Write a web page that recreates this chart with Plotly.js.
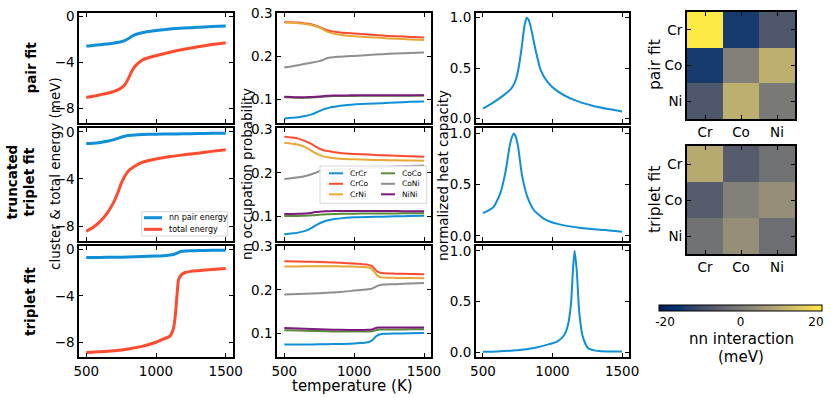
<!DOCTYPE html>
<html>
<head>
<meta charset="utf-8">
<script src="https://cdn.plot.ly/plotly-3.0.1.min.js"></script>
<style>body{margin:0;background:#fff}#plot{width:831px;height:398px}</style>
</head>
<body>
<div id="plot"></div>
<script>
// temperature grids (K) for the three fits
var tPair = [500,550,600,650,700,750,775,800,825,850,900,950,1000,1100,1200,1300,1400,1500]
var tTrunc = [500,550,600,650,700,725,750,775,800,850,900,1000,1100,1200,1300,1400,1500]
var tTrip = [500,600,700,800,900,1000,1050,1100,1125,1138,1150,1162,1175,1187,1210,1250,1300,1400,1500]

// energies (meV)
var pairNN = [-2.58,-2.53,-2.47,-2.4,-2.32,-2.21,-2.11,-1.96,-1.76,-1.6,-1.43,-1.33,-1.25,-1.12,-1.03,-0.96,-0.9,-0.85]
var pairTot = [-7.04,-6.93,-6.8,-6.67,-6.5,-6.22,-5.95,-5.45,-4.8,-4.33,-3.82,-3.58,-3.42,-3.12,-2.87,-2.65,-2.46,-2.3]
var truncNN = [-1.0,-0.97,-0.9,-0.8,-0.66,-0.56,-0.46,-0.38,-0.32,-0.26,-0.23,-0.2,-0.18,-0.17,-0.15,-0.13,-0.12]
var truncTot = [-8.44,-8.1,-7.6,-6.9,-5.9,-5.2,-4.4,-3.8,-3.35,-2.9,-2.6,-2.31,-2.1,-1.95,-1.81,-1.66,-1.52]
var tripNN = [-0.72,-0.71,-0.69,-0.67,-0.63,-0.59,-0.56,-0.5,-0.45,-0.4,-0.34,-0.27,-0.21,-0.18,-0.15,-0.13,-0.12,-0.1,-0.09]
var tripTot = [-8.85,-8.8,-8.71,-8.56,-8.33,-7.98,-7.72,-7.45,-6.8,-5.75,-4.05,-2.6,-2.3,-2.15,-2.0,-1.9,-1.84,-1.75,-1.66]

// nn occupation probabilities: CrCr, CrCo, CrNi, CoCo, CoNi, NiNi
var pairOcc = [
  [.0558,.0572,.0588,.0615,.0658,.0728,.0762,.079,.081,.0825,.0852,.087,.0884,.09,.0914,.093,.0944,.0951],
  [.2805,.28,.279,.277,.2744,.269,.2655,.262,.2595,.258,.2558,.2545,.2535,.2512,.2488,.2472,.2457,.2442],
  [.279,.2785,.2775,.2755,.273,.2675,.2635,.259,.2555,.2535,.2505,.2485,.247,.245,.243,.2413,.2397,.2382],
  [.105,.1043,.1037,.1037,.1043,.1055,.1063,.107,.1075,.1078,.108,.1082,.1083,.1085,.1087,.1088,.1089,.109],
  [.1744,.177,.1798,.183,.186,.1893,.192,.1953,.1975,.1985,.1995,.2005,.2014,.2035,.2053,.207,.2082,.2093],
  [.1061,.1056,.1053,.1054,.106,.107,.1077,.1084,.1089,.1092,.1094,.1095,.1096,.1097,.1098,.1099,.11,.11]
]
var truncOcc = [
  [.0598,.0615,.0636,.0675,.0752,.08,.0845,.088,.0907,.094,.0962,.0985,.0995,.1,.1008,.1016,.1023],
  [.283,.281,.2784,.2728,.265,.26,.2558,.2525,.2505,.2478,.2458,.2435,.242,.2405,.2393,.2382,.2372],
  [.269,.267,.2644,.259,.2496,.245,.2412,.2385,.2365,.2342,.2326,.231,.2302,.2295,.229,.2284,.2279],
  [.1016,.1016,.1018,.1023,.1031,.1038,.1045,.105,.1054,.106,.1065,.107,.1073,.1075,.1076,.1077,.1078],
  [.186,.1878,.1899,.193,.1977,.2005,.204,.2055,.2065,.2075,.2082,.2095,.2112,.2128,.2145,.216,.2172],
  [.1063,.1063,.1065,.1075,.1093,.1105,.1115,.112,.1124,.1128,.113,.1131,.1131,.113,.1128,.1126,.1124]
]
var tripOcc = [
  [.0738,.0741,.0743,.0746,.0753,.0762,.0775,.0792,.083,.0865,.0908,.094,.0965,.0978,.0987,.099,.0993,.1,.1008],
  [.2663,.2656,.2648,.264,.2625,.2609,.2595,.2578,.2555,.252,.2475,.2435,.2408,.2395,.2383,.2378,.2375,.2368,.2362],
  [.2538,.2542,.2545,.2546,.2543,.2538,.2528,.2515,.249,.2445,.2395,.2345,.231,.2295,.2285,.228,.2277,.2273,.227],
  [.107,.1062,.1054,.1046,.104,.1039,.1039,.104,.1045,.1053,.1063,.1073,.108,.1084,.1086,.1087,.1088,.109,.1092],
  [.1892,.1903,.1915,.1935,.1954,.1985,.2,.2015,.2028,.2045,.2065,.2085,.2102,.2115,.2125,.2128,.2132,.2148,.2162],
  [.1123,.1112,.11,.1088,.1078,.1077,.1077,.1078,.1085,.11,.1115,.1125,.113,.1131,.1131,.1131,.1131,.1131,.1131]
]

// normalized heat capacity
var cvPairT = [500,550,600,650,700,720,740,760,780,800,815,830,845,860,880,915,965,1035,1150,1300,1400,1500]
var cvPair = [0.095,0.135,0.18,0.23,0.29,0.33,0.4,0.53,0.72,0.93,1.0,0.975,0.9,0.8,0.67,0.48,0.36,0.27,0.185,0.12,0.092,0.068]
var cvTruncT = [500,540,577,625,661,693,710,722,735,751,782,819,867,939,1036,1205,1374,1500]
var cvTrunc = [0.223,0.25,0.283,0.417,0.617,0.883,0.97,1.0,0.97,0.883,0.583,0.383,0.25,0.167,0.117,0.077,0.057,0.04]
var cvTripT = [500,600,746,867,964,1036,1085,1109,1133,1147,1159,1174,1193,1217,1254,1300,1350,1500]
var cvTrip = [0.005,0.008,0.02,0.042,0.075,0.108,0.17,0.255,0.48,0.81,1.0,0.81,0.386,0.157,0.042,0.018,0.01,0.007]

// nn interaction matrices (meV)
var elements = ['Cr','Co','Ni']
var pairJ = [[21.6,-15,-8.5],[-15,1,11],[-8.5,11,-0.5]]
var tripJ = [[10,-7,-2],[-7,1,4.5],[-2,4.5,-3]]

var energyNames = ['nn pair energy','total energy']
var occNames = ['CrCr','CrCo','CrNi','CoCo','CoNi','NiNi']
var rowNames = ['<b>pair fit</b>','<b>truncated<br>triplet fit</b>','<b>triplet fit</b>']

var blue = '#0f8fd8', red = '#ff4b2f'
var energyColors = [blue, red]
var occColors = [blue, red, '#e8a838', '#5c8a3a', '#8f8f8f', '#7c1a80']

var W = 831, H = 398
function px(x){ return x / W }
function py(y){ return 1 - y / H }
function ax(n){ return n === 1 ? '' : String(n) }

var colPx = [[79.3,232.7],[277.3,431],[476,629]]
var rowPx = [[12.7,123.3],[128.3,241],[245.7,357.3]]

var temps = [tPair, tTrunc, tTrip]
var energies = [[pairNN, pairTot], [truncNN, truncTot], [tripNN, tripTot]]
var occs = [pairOcc, truncOcc, tripOcc]
var cvT = [cvPairT, cvTruncT, cvTripT]
var cvs = [cvPair, cvTrunc, cvTrip]

var font = 'DejaVu Sans'
var data = []
var layout = {
  width: W, height: H,
  margin: {l: 0, r: 0, t: 0, b: 0},
  paper_bgcolor: 'white', plot_bgcolor: 'white',
  showlegend: false,
  font: {family: font, color: 'black', size: 13},
  annotations: [], shapes: []
}

function baseAxis() {
  return {
    showline: true, linewidth: 2, linecolor: 'black', mirror: 'ticks',
    ticks: 'inside', ticklen: 4, tickwidth: 1, tickcolor: 'black',
    showgrid: false, zeroline: false,
    tickfont: {family: font, size: 13.5, color: 'black'}
  }
}

for (var r = 0; r < 3; r++) {
  for (var c = 0; c < 3; c++) {
    var n = r * 3 + c + 1
    var xa = baseAxis(), ya = baseAxis()
    xa.domain = [px(colPx[c][0]), px(colPx[c][1])]
    ya.domain = [py(rowPx[r][1]), py(rowPx[r][0])]
    xa.range = [450, 1550]
    xa.tickvals = [500, 1000, 1500]
    xa.ticktext = ['500', '1000', '1500']
    xa.showticklabels = (r === 2)
    xa.anchor = 'y' + ax(n)
    ya.anchor = 'x' + ax(n)
    if (c === 0) {
      ya.range = [-9.27, 0.3]
      ya.tickvals = [0, -4, -8]
      ya.ticktext = ['0', '\u22124', '\u22128']
      for (var k = 0; k < 2; k++) {
        data.push({x: temps[r], y: energies[r][k], type: 'scatter', mode: 'lines',
          line: {color: energyColors[k], width: 3, shape: 'spline', smoothing: 0.7},
          xaxis: 'x' + ax(n), yaxis: 'y' + ax(n), name: energyNames[k]})
      }
    } else if (c === 1) {
      ya.range = [0.0445, 0.302]
      ya.tickvals = [0.1, 0.2, 0.3]
      ya.ticktext = ['0.1', '0.2', '0.3']
      var order = [1, 2, 4, 3, 5, 0]
      order.forEach(function (k) {
        data.push({x: temps[r], y: occs[r][k], type: 'scatter', mode: 'lines',
          line: {color: occColors[k], width: 2, shape: 'spline', smoothing: 0.7},
          xaxis: 'x' + ax(n), yaxis: 'y' + ax(n), name: occNames[k]})
      })
    } else {
      ya.range = [-0.05, 1.05]
      ya.tickvals = [0, 0.5, 1]
      ya.ticktext = ['0.0', '0.5', '1.0']
      data.push({x: cvT[r], y: cvs[r], type: 'scatter', mode: 'lines',
        line: {color: blue, width: 2, shape: 'spline', smoothing: 0.6},
        xaxis: 'x' + ax(n), yaxis: 'y' + ax(n), name: 'heat capacity'})
    }
    layout['xaxis' + ax(n)] = xa
    layout['yaxis' + ax(n)] = ya
  }
}

// interaction heatmaps
var heatPx = [[12, 119], [146, 254]]
var mats = [pairJ, tripJ]
for (var h = 0; h < 2; h++) {
  var n = 10 + h
  var xa = baseAxis(), ya = baseAxis()
  xa.domain = [px(687), px(795)]
  ya.domain = [py(heatPx[h][1]), py(heatPx[h][0])]
  xa.anchor = 'y' + n
  ya.anchor = 'x' + n
  ya.autorange = 'reversed'
  xa.type = 'category'
  ya.type = 'category'
  layout['xaxis' + n] = xa
  layout['yaxis' + n] = ya
  data.push({type: 'heatmap', x: elements, y: elements, z: mats[h],
    coloraxis: 'coloraxis', xaxis: 'x' + n, yaxis: 'y' + n, hoverinfo: 'none'})
}
layout.coloraxis = {
  colorscale: 'Cividis', cmin: -21.6, cmax: 21.6,
  colorbar: {
    orientation: 'h', x: px(740.5), xanchor: 'center', y: py(305), yanchor: 'top',
    len: 163 / W, lenmode: 'fraction', thickness: 6, xpad: 0, ypad: 0,
    outlinewidth: 1, outlinecolor: 'black',
    tickvals: [-20, 0, 20], ticktext: ['-20', '0', '20'], ticks: '',
    tickfont: {family: font, size: 12, color: 'black'}
  }
}

function note(text, x, y, size, angle) {
  layout.annotations.push({text: text, x: px(x), y: py(y), xref: 'paper', yref: 'paper',
    showarrow: false, xanchor: 'center', yanchor: 'middle', textangle: angle || 0,
    font: {family: font, size: size, color: 'black'}})
}

// row labels and axis titles
note(rowNames[0], 30, 67.5, 13.5, -90)
note(rowNames[1], 20.5, 182, 13.5, -90)
note(rowNames[2], 30, 302, 13.5, -90)
note('cluster &amp; total energy (meV)', 55, 174, 13.5, -90)
note('nn occupation probability', 247, 174, 13.5, -90)
note('normalized heat capacity', 443, 175, 13.5, -90)
note('temperature (K)', 352, 386, 15, 0)
note('pair fit', 655, 65, 15.5, -90)
note('triplet fit', 655, 200, 15.5, -90)
note('nn interaction', 741, 339, 15, 0)
note('(meV)', 741, 357, 15, 0)

// legends
function legendBox(x0, y0, x1, y1) {
  layout.shapes.push({type: 'rect', xref: 'paper', yref: 'paper', layer: 'above',
    x0: px(x0), x1: px(x1), y0: py(y1), y1: py(y0),
    line: {color: '#d6d6d6', width: 1}, fillcolor: 'rgba(255,255,255,0.9)'})
}
function legendKey(x, y, len, color, width, label, size) {
  layout.shapes.push({type: 'line', xref: 'paper', yref: 'paper', layer: 'above',
    x0: px(x), x1: px(x + len), y0: py(y), y1: py(y), line: {color: color, width: width}})
  layout.annotations.push({text: label, x: px(x + len + 4.5), y: py(y), xref: 'paper', yref: 'paper',
    showarrow: false, xanchor: 'left', yanchor: 'middle',
    font: {family: font, size: size, color: 'black'}})
}
legendBox(141.7, 211.7, 227.7, 236)
energyNames.forEach(function (name, i) {
  legendKey(144, 217.7 + i * 11.6, 18, energyColors[i], 3, name, 8)
})
legendBox(320, 166, 426.7, 203.3)
occNames.forEach(function (name, i) {
  legendKey(329 + Math.floor(i / 3) * 52, 173.3 + (i % 3) * 10.5, 14, occColors[i], 2, name, 7.5)
})

Plotly.newPlot('plot', data, layout, {staticPlot: true})
</script>
</body>
</html>
